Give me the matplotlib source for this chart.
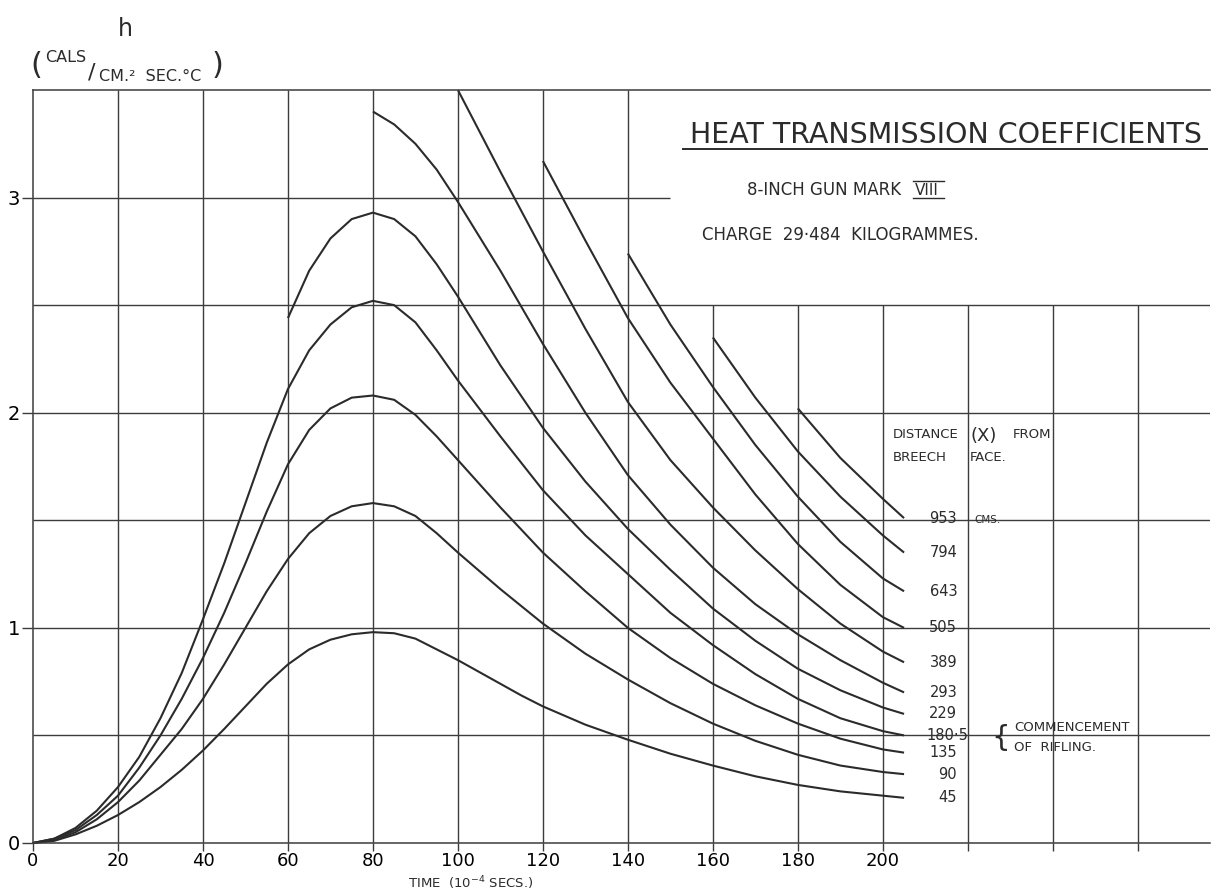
import matplotlib
matplotlib.use('Agg')
import matplotlib.pyplot as plt
from matplotlib.lines import Line2D

# heat transmission coefficient h vs time (10^-4 s), one curve per distance from breech face
labels = ['953', '794', '643', '505', '389', '293', '229', '180·5', '135', '90', '45']

t_low = [0, 5, 10, 15, 20, 25, 30, 35, 40, 45, 50, 55, 60, 65, 70, 75, 80, 85, 90, 95,
         100, 105, 110, 115, 120, 130, 140, 150, 160, 170, 180, 190, 200, 205]
h_45 = [0, 0.01, 0.04, 0.08, 0.13, 0.19, 0.26, 0.34, 0.43, 0.53, 0.635, 0.74, 0.83, 0.90,
        0.945, 0.97, 0.98, 0.975, 0.95, 0.90, 0.85, 0.795, 0.74, 0.685, 0.635,
        0.55, 0.48, 0.415, 0.36, 0.31, 0.27, 0.24, 0.22, 0.21]
h_90 = [0, 0.015, 0.05, 0.11, 0.19, 0.29, 0.41, 0.53, 0.67, 0.83, 1.00, 1.17, 1.32, 1.44,
        1.52, 1.565, 1.58, 1.565, 1.52, 1.44, 1.35, 1.265, 1.18, 1.10, 1.02,
        0.88, 0.76, 0.65, 0.555, 0.475, 0.41, 0.36, 0.33, 0.32]
h_135 = [0, 0.02, 0.06, 0.13, 0.22, 0.35, 0.50, 0.67, 0.86, 1.07, 1.30, 1.54, 1.76, 1.92,
         2.02, 2.07, 2.08, 2.06, 1.99, 1.89, 1.78, 1.67, 1.56, 1.455, 1.35,
         1.17, 1.00, 0.86, 0.74, 0.64, 0.555, 0.485, 0.435, 0.42]
h_180 = [0, 0.02, 0.07, 0.15, 0.26, 0.40, 0.58, 0.79, 1.04, 1.30, 1.58, 1.86, 2.11, 2.29,
         2.41, 2.49, 2.52, 2.50, 2.42, 2.29, 2.15, 2.02, 1.89, 1.765, 1.64,
         1.43, 1.25, 1.07, 0.92, 0.785, 0.67, 0.58, 0.52, 0.50]

t_229 = [60, 65, 70, 75, 80, 85, 90, 95, 100, 105, 110, 120, 130, 140, 150, 160, 170,
         180, 190, 200, 205]
h_229 = [2.44, 2.66, 2.81, 2.90, 2.93, 2.90, 2.82, 2.69, 2.54, 2.38, 2.22, 1.93, 1.68,
         1.46, 1.27, 1.09, 0.94, 0.81, 0.71, 0.63, 0.60]

t_293 = [80, 85, 90, 95, 100, 105, 110, 115, 120, 130, 140, 150, 160, 170, 180, 190, 200, 205]
h_293 = [3.40, 3.34, 3.25, 3.13, 2.98, 2.82, 2.66, 2.49, 2.32, 2.00, 1.71, 1.48, 1.28,
         1.11, 0.97, 0.85, 0.745, 0.70]

t_389 = [100, 110, 120, 130, 140, 150, 160, 170, 180, 190, 200, 205]
h_389 = [3.50, 3.12, 2.75, 2.39, 2.05, 1.78, 1.56, 1.36, 1.18, 1.02, 0.89, 0.84]

t_505 = [120, 130, 140, 150, 160, 170, 180, 190, 200, 205]
h_505 = [3.17, 2.80, 2.44, 2.14, 1.88, 1.62, 1.39, 1.20, 1.05, 1.00]

t_643 = [140, 150, 160, 170, 180, 190, 200, 205]
h_643 = [2.74, 2.41, 2.12, 1.85, 1.61, 1.40, 1.23, 1.17]

t_794 = [160, 170, 180, 190, 200, 205]
h_794 = [2.35, 2.07, 1.82, 1.61, 1.43, 1.35]

t_953 = [180, 190, 200, 205]
h_953 = [2.02, 1.79, 1.60, 1.51]

series = [(t_953, h_953), (t_794, h_794), (t_643, h_643), (t_505, h_505),
          (t_389, h_389), (t_293, h_293), (t_229, h_229), (t_low, h_180),
          (t_low, h_135), (t_low, h_90), (t_low, h_45)]

xticks = [0, 20, 40, 60, 80, 100, 120, 140, 160, 180, 200, 220, 240, 260]
xticklabels = ['0', '20', '40', '60', '80', '100', '120', '140', '160', '180', '200', '', '', '']
yticks = [0, 1, 2, 3]

W_PX, H_PX = 1212, 893
def fx(x):
    return x / W_PX
def fy(y):
    return 1 - y / H_PX

ink = '#2b2b2b'
grid_c = '#3c3c3c'

fig = plt.figure(figsize=(12.12, 8.93), dpi=100)
ax = fig.add_axes([fx(33), fy(843), fx(1210) - fx(33), fy(90) - fy(843)])
ax.set_xlim(0, 277)
ax.set_ylim(0, 3.5)

# grid: top-right region is left blank for the title block
for x in xticks[1:]:
    top = 3.5 if x <= 140 else 2.5
    ax.vlines(x, 0, top, color=grid_c, lw=1.0)
for y in [0.5, 1.0, 1.5, 2.0, 2.5]:
    ax.hlines(y, 0, 277, color=grid_c, lw=1.0)
ax.hlines(3.0, 0, 150, color=grid_c, lw=1.0)

ax.spines['right'].set_visible(False)
for sp in ['left', 'top', 'bottom']:
    ax.spines[sp].set_color(grid_c)
    ax.spines[sp].set_linewidth(1.1)

ax.set_xticks(xticks)
ax.set_xticklabels(xticklabels)
ax.set_yticks(yticks)
ax.tick_params(axis='x', direction='out', length=6, width=1, color=grid_c, labelsize=13, pad=0.5)
ax.tick_params(axis='y', direction='out', length=8, width=1, color=grid_c, labelsize=14, pad=1.5)

for (t, h), lab in zip(series, labels):
    ax.plot(t, h, color=ink, lw=1.5, clip_on=False, solid_capstyle='butt',
            solid_joinstyle='round')
    if '·' in lab:
        ax.text(210.2, h[-1], lab, fontsize=10.5, ha='left', va='center', color=ink)
    else:
        ax.text(217.5, h[-1], lab, fontsize=10.5, ha='right', va='center', color=ink)

ax.text(221.5, h_953[-1] - 0.01, 'CMS.', fontsize=7.5, ha='left', va='center', color=ink)

# title block
fig.text(fx(690), fy(143), 'HEAT TRANSMISSION COEFFICIENTS', fontsize=20.5,
         ha='left', va='baseline', color=ink)
fig.add_artist(Line2D([fx(683), fx(1207)], [fy(149), fy(149)], color=ink, lw=1.4))
fig.text(fx(747), fy(195), '8-INCH GUN MARK', fontsize=12, ha='left', va='baseline', color=ink)
fig.text(fx(915), fy(195), 'VIII', fontsize=11, ha='left', va='baseline', color=ink)
fig.add_artist(Line2D([fx(913), fx(944)], [fy(181), fy(181)], color=ink, lw=1.0))
fig.add_artist(Line2D([fx(913), fx(944)], [fy(198), fy(198)], color=ink, lw=1.0))
fig.text(fx(702), fy(240), 'CHARGE  29·484  KILOGRAMMES.', fontsize=12,
         ha='left', va='baseline', color=ink)

# distance legend
fig.text(fx(893), fy(438), 'DISTANCE', fontsize=9.5, ha='left', va='baseline', color=ink)
fig.text(fx(970), fy(441), '(X)', fontsize=13, ha='left', va='baseline', color=ink)
fig.text(fx(1013), fy(438), 'FROM', fontsize=9.5, ha='left', va='baseline', color=ink)
fig.text(fx(893), fy(461), 'BREECH', fontsize=9.5, ha='left', va='baseline', color=ink)
fig.text(fx(970), fy(461), 'FACE.', fontsize=9.5, ha='left', va='baseline', color=ink)

fig.text(fx(1010), fy(738), '{', fontsize=21, ha='right', va='center', color=ink)
fig.text(fx(1014), fy(731), 'COMMENCEMENT', fontsize=9.5, ha='left', va='baseline', color=ink)
fig.text(fx(1014), fy(751), 'OF  RIFLING.', fontsize=9.5, ha='left', va='baseline', color=ink)

# y-axis unit
fig.text(fx(125), fy(36), 'h', fontsize=17, ha='center', va='baseline', color=ink)
fig.text(fx(30), fy(66), '(', fontsize=22, ha='left', va='center', color=ink)
fig.text(fx(45), fy(62), 'CALS', fontsize=11.5, ha='left', va='baseline', color=ink)
fig.text(fx(88), fy(72), '/', fontsize=16, ha='left', va='center', color=ink)
fig.text(fx(99), fy(81), 'CM.²  SEC.°C', fontsize=11.5, ha='left', va='baseline', color=ink)
fig.text(fx(212), fy(66), ')', fontsize=22, ha='left', va='center', color=ink)

fig.text(fx(408), fy(888), 'TIME  (10$^{-4}$ SECS.)', fontsize=9.5, ha='left',
         va='baseline', color=ink)

fig.savefig('out.png', dpi=100, facecolor='white')
